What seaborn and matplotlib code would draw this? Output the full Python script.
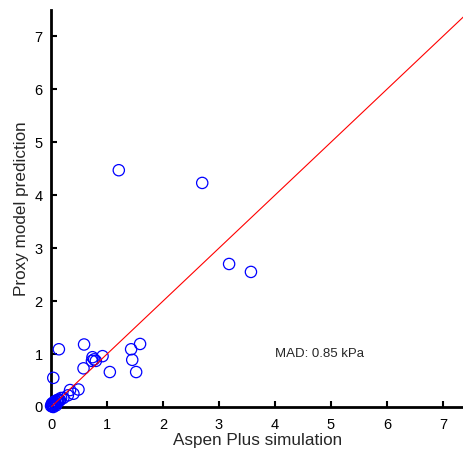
import matplotlib
matplotlib.use("Agg")
import matplotlib.pyplot as plt
import seaborn as sns
import pandas as pd

sns.set_theme(style="white")
plt.rcParams['font.family'] = ['Liberation Sans', 'DejaVu Sans']

aspen = [1.21, 2.70, 3.18, 3.57,
         0.14, 0.59, 1.59, 1.43, 1.45, 1.52, 1.05,
         0.74, 0.77, 0.80, 0.92, 0.58, 0.73,
         0.04, 0.49, 0.34, 0.40, 0.30, 0.22, 0.16,
         0.02, 0.03, 0.05, 0.06, 0.08, 0.10, 0.12, 0.01, 0.04,
         0.07, 0.13, 0.15, 0.18, 0.00, 0.09, 0.11, 0.05, 0.02]
proxy = [4.47, 4.23, 2.70, 2.55,
         1.09, 1.18, 1.19, 1.09, 0.89, 0.66, 0.66,
         0.94, 0.90, 0.87, 0.96, 0.73, 0.87,
         0.55, 0.33, 0.32, 0.25, 0.22, 0.17, 0.13,
         0.01, 0.03, 0.04, 0.07, 0.06, 0.10, 0.09, 0.05, 0.00,
         0.11, 0.14, 0.12, 0.17, 0.02, 0.03, 0.13, 0.09, 0.07]
x_ticks = [0, 1, 2, 3, 4, 5, 6, 7]
y_ticks = [0, 1, 2, 3, 4, 5, 6, 7]
annotation = "MAD: 0.85 kPa"

df = pd.DataFrame({"aspen": aspen, "proxy": proxy})

fig = plt.figure(figsize=(4.64, 4.55), dpi=100)
ax = fig.add_axes([0.110, 0.1055, 0.890, 0.872])

sns.scatterplot(data=df, x="aspen", y="proxy", ax=ax, marker="o", s=66,
                facecolor="none", edgecolor="blue", linewidth=0.9, zorder=3,
                clip_on=False)
ax.axline((0, 0), slope=1, color="red", lw=0.8, zorder=4)

ax.set_xlim(0, 7.375)
ax.set_ylim(0, 7.49)
ax.set_xticks(x_ticks)
ax.set_yticks(y_ticks)
ax.tick_params(direction="in", length=4, width=1.5, labelsize=10.5,
               colors="black", bottom=True, left=True)
ax.tick_params(axis="x", pad=8)
ax.tick_params(axis="y", pad=6)
for side in ["top", "right"]:
    ax.spines[side].set_visible(False)
for side in ["left", "bottom"]:
    ax.spines[side].set_color("black")
    ax.spines[side].set_linewidth(2)
    ax.spines[side].set_zorder(2)

ax.set_xlabel("Aspen Plus simulation", fontsize=12.3, labelpad=1)
ax.set_ylabel("Proxy model prediction", fontsize=12.3, labelpad=4)
ax.text(4.0, 1.0, annotation, fontsize=9.5, ha="left", va="center")

fig.savefig("out.png", dpi=100)
